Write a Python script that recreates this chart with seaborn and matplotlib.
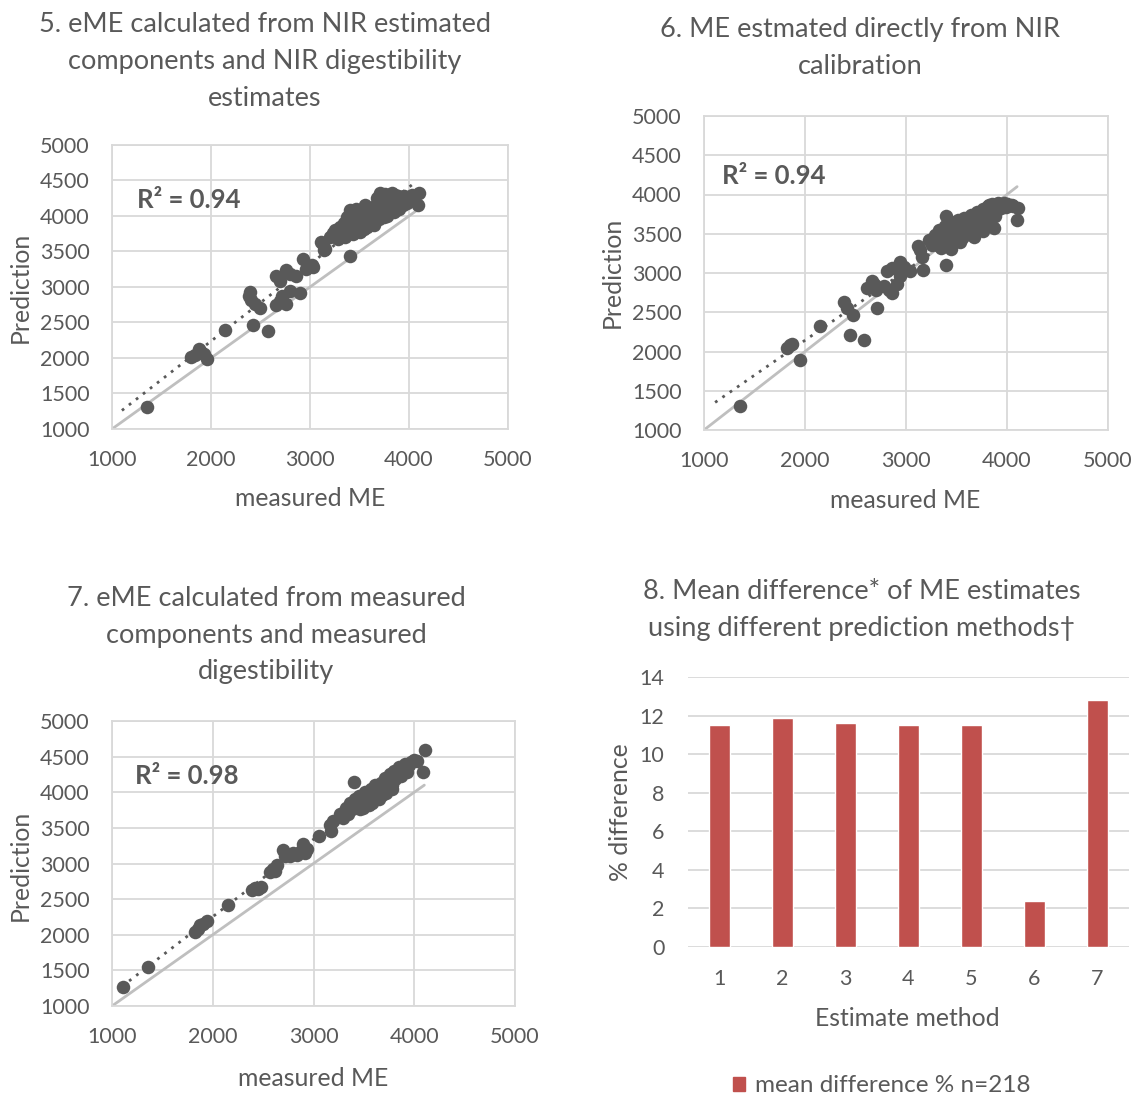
import numpy as np
import pandas as pd
import matplotlib
matplotlib.use("Agg")
import matplotlib.pyplot as plt
from matplotlib.patches import Patch
import seaborn as sns

# ---- data -------------------------------------------------------------
# 5. eME from NIR estimated components and NIR digestibility
nir_comp_measured = [
    1350, 1800, 1840, 1880, 1900, 1930, 1960, 2140, 2420, 2580,
    2390, 2380, 2400, 2440, 2490, 2660, 2700, 2720, 2760, 2800,
    2660, 2700, 2760, 2800, 2860, 2900, 2930, 2960, 3030, 3020,
    3130, 3140, 3110, 3150, 3400,
    3200, 3230, 3250, 3280, 3300, 3320, 3340, 3350, 3370, 3380,
    3400, 3420, 3430, 3450, 3460, 3480, 3500, 3510, 3530, 3550,
    3560, 3580, 3600, 3620, 3640, 3650, 3670, 3690, 3700, 3710,
    3720, 3740, 3750, 3770, 3790, 3800, 3820, 3840, 3850, 3870,
    3890, 3900, 3920, 3940, 3960, 3980, 4000, 4050, 4100, 4090,
    3450, 3550, 3350, 3300, 3600, 3700, 3780, 3860, 3800, 3400,
    3760, 3810, 3860, 3910, 3950, 4000, 4030, 3730, 3680, 3830,
]
nir_comp_pred = [
    1310, 2010, 2040, 2130, 2090, 2060, 1990, 2400, 2460, 2380,
    2930, 2870, 2810, 2760, 2710, 2750, 2800, 2880, 2760, 2940,
    3150, 3080, 3240, 3180, 3150, 2910, 3400, 3250, 3280, 3310,
    3610, 3520, 3640, 3530, 3430,
    3700, 3760, 3800, 3680, 3850, 3750, 3900, 3700, 3980, 3800,
    3880, 4050, 3750, 3950, 4100, 3850, 4000, 3780, 4080, 3900,
    4150, 3850, 4020, 3950, 4120, 3880, 4050, 4200, 3960, 4330,
    4300, 4100, 3980, 4200, 4050, 4280, 4150, 4250, 4050, 4180,
    4280, 4100, 4220, 4150, 4250, 4180, 4230, 4270, 4330, 4150,
    3820, 3820, 3830, 3750, 3920, 4120, 4000, 4120, 4300, 4080,
    4310, 4290, 4300, 4270, 4280, 4260, 4290, 4250, 4260, 4320,
]

# 6. ME estimated directly from NIR calibration
nir_cal_measured = [
    1356, 1820, 1850, 1870, 1950, 2150, 2390, 2420, 2480, 2450,
    2580, 2710, 2610, 2660, 2680, 2700, 2780, 2830, 2910, 2940,
    2860, 2810, 2860, 2940, 2980, 3040, 3170, 3140, 3160, 3120,
    3400,
    3230, 3260, 3290, 3310, 3330, 3350, 3370, 3390, 3400, 3410,
    3430, 3450, 3460, 3480, 3500, 3510, 3530, 3550, 3570, 3580,
    3600, 3620, 3640, 3650, 3670, 3690, 3700, 3720, 3740, 3760,
    3770, 3790, 3810, 3820, 3840, 3860, 3880, 3900, 3920, 3940,
    3960, 3980, 4000, 4050, 4110, 4100, 3870, 3760, 3450, 3550,
    3820, 3850, 3880, 3910, 3940, 3970, 4000, 4030, 3990, 4060,
]
nir_cal_pred = [
    1306, 2040, 2080, 2100, 1890, 2320, 2630, 2560, 2470, 2210,
    2150, 2560, 2810, 2900, 2860, 2780, 2840, 2780, 2860, 2960,
    2750, 3020, 3060, 3140, 3080, 3020, 3040, 3290, 3200, 3350,
    3100,
    3420, 3360, 3480, 3400, 3550, 3320, 3460, 3600, 3720, 3380,
    3520, 3650, 3420, 3580, 3480, 3680, 3400, 3560, 3700, 3480,
    3620, 3520, 3740, 3600, 3460, 3680, 3780, 3560, 3700, 3820,
    3620, 3750, 3850, 3680, 3780, 3870, 3720, 3800, 3880, 3830,
    3860, 3870, 3850, 3860, 3830, 3680, 3570, 3540, 3300, 3440,
    3860, 3880, 3870, 3890, 3870, 3890, 3880, 3870, 3840, 3850,
]

# 7. eME from measured components and measured digestibility
lab_measured = [
    1110, 1360, 1820, 1850, 1870, 1900, 1940, 2155, 2390, 2420,
    2450, 2480, 2570, 2600, 2640, 2620, 2700, 2720, 2770, 2800,
    2840, 2880, 2900, 2920, 2940, 3050, 3160, 3170, 3190,
    3260, 3290, 3320, 3340, 3360, 3380, 3400, 3410, 3430, 3450,
    3470, 3490, 3510, 3530, 3550, 3570, 3590, 3610, 3630, 3650,
    3670, 3690, 3710, 3720, 3740, 3760, 3780, 3800, 3810, 3830,
    3850, 3870, 3890, 3910, 3930, 3950, 3970, 4000, 4030, 4110,
    4090, 3580, 3680, 3780, 3460,
]
lab_pred = [
    1270, 1550, 2040, 2080, 2130, 2150, 2200, 2420, 2630, 2660,
    2640, 2670, 2880, 2920, 2980, 2900, 3190, 3100, 3100, 3150,
    3120, 3180, 3280, 3150, 3200, 3380, 3540, 3450, 3600,
    3700, 3640, 3780, 3700, 3850, 3760, 4150, 3900, 3800, 3950,
    3860, 3780, 4000, 3900, 3820, 4050, 3950, 4100, 4000, 3900,
    4130, 4050, 4200, 3990, 4150, 4250, 4100, 4300, 4180, 4260,
    4350, 4230, 4310, 4400, 4280, 4380, 4420, 4450, 4440, 4590,
    4290, 3850, 3960, 4050, 3760,
]

# 8. mean difference of ME estimates by method (n=218)
methods = ["1", "2", "3", "4", "5", "6", "7"]
mean_diff = [11.5, 11.9, 11.6, 11.5, 11.5, 2.4, 12.8]

# ---- style ------------------------------------------------------------
sns.set_theme(style="white")
plt.rcParams["font.family"] = ["Lato", "DejaVu Sans"]
TXT = "#595959"
GRID = "#d9d9d9"
DOT = "#595959"
ONE2ONE = "#bfbfbf"
BAR = "#c0504d"

W, H = 1131, 1097
fig = plt.figure(figsize=(W / 100, H / 100), dpi=100)


def rect(l, t, r, b):
    return [l / W, 1 - b / H, (r - l) / W, (b - t) / H]


def ftext(x, y, s, **kw):
    fig.text(x / W, 1 - y / H, s, **kw)


def scatter_panel(box, xs, ys, r2, r2_xy, fit_range):
    ax = fig.add_axes(rect(*box))
    df = pd.DataFrame({"measured ME": xs, "Prediction": ys})
    # 1:1 reference line
    ref = np.array([1000, 4100])
    ax.plot(ref, ref, color=ONE2ONE, lw=2.0, zorder=1)
    sns.scatterplot(data=df, x="measured ME", y="Prediction", ax=ax,
                    color=DOT, s=95, linewidth=0, alpha=1, zorder=3)
    # least-squares trend line
    k, c = np.polyfit(xs, ys, 1)
    fx = np.array(fit_range)
    ax.plot(fx, k * fx + c, ls=(0, (1, 2.2)), color=DOT, lw=2.0, zorder=2)
    ax.set_xlim(1000, 5000)
    ax.set_ylim(1000, 5000)
    ax.set_xticks(range(1000, 5001, 1000))
    ax.set_yticks(range(1000, 5001, 500))
    ax.grid(True, color=GRID, lw=1.3)
    ax.set_axisbelow(True)
    for sp in ax.spines.values():
        sp.set_color(GRID)
        sp.set_linewidth(1.3)
    ax.tick_params(length=0, labelsize=15.5, labelcolor=TXT)
    ax.tick_params(axis="x", pad=15)
    ax.tick_params(axis="y", pad=16)
    ax.set_xlabel("")
    ax.set_ylabel("")
    ftext(r2_xy[0], r2_xy[1], r2, fontsize=18.5, color=TXT,
          fontweight="bold", va="center", ha="left")
    return ax


scatter_panel((112, 145, 508, 429), nir_comp_measured, nir_comp_pred,
              "R² = 0.94", (137, 200), (1100, 4060))
scatter_panel((704, 116, 1108, 430), nir_cal_measured, nir_cal_pred,
              "R² = 0.94", (722, 176), (1110, 4060))
scatter_panel((112, 721, 515, 1006), lab_measured, lab_pred,
              "R² = 0.98", (135, 776), (1100, 4110))

# bar chart of mean differences
axb = fig.add_axes(rect(688, 677, 1129, 947))
bdf = pd.DataFrame({"Estimate method": methods, "% difference": mean_diff})
sns.barplot(data=bdf, x="Estimate method", y="% difference", ax=axb,
            color=BAR, width=0.32, saturation=1, errorbar=None)
axb.set_xlim(-0.5, 6.5)
axb.set_ylim(0, 14)
axb.set_yticks(range(0, 15, 2))
axb.yaxis.grid(True, color=GRID, lw=1.3)
axb.set_axisbelow(True)
for sp in axb.spines.values():
    sp.set_visible(False)
axb.tick_params(length=0, labelsize=15.5, labelcolor=TXT)
axb.tick_params(axis="x", pad=16)
axb.tick_params(axis="y", pad=17)
axb.set_xlabel("")
axb.set_ylabel("")
fig.legend(handles=[Patch(color=BAR, label="mean difference % n=218")],
           loc="center", bbox_to_anchor=(882 / W, 1 - 1086 / H),
           frameon=False, fontsize=17.5, labelcolor=TXT,
           handlelength=0.5, handleheight=0.5, handletextpad=0.4)

# titles
tkw = dict(fontsize=19.5, color=TXT, ha="center", va="center", linespacing=1.6)
ftext(265, 61, "5. eME calculated from NIR estimated\ncomponents and NIR digestibility\nestimates", **tkw)
ftext(860, 48, "6. ME estmated directly from NIR\ncalibration", **tkw)
ftext(266, 635, "7. eME calculated from measured\ncomponents and measured\ndigestibility", **tkw)
ftext(862, 610, "8. Mean difference* of ME estimates\nusing different prediction methods†", **tkw)

# axis titles
lkw = dict(fontsize=17.8, color=TXT, ha="center", va="center")
ftext(20, 287, "Prediction", rotation=90, **lkw)
ftext(310, 499, "measured ME", **lkw)
ftext(612, 272, "Prediction", rotation=90, **lkw)
ftext(905, 500, "measured ME", **lkw)
ftext(20, 865, "Prediction", rotation=90, **lkw)
ftext(313, 1078, "measured ME", **lkw)
ftext(620, 812, "% difference", rotation=90, **lkw)
ftext(907, 1018, "Estimate method", **lkw)

fig.savefig("out.png", dpi=100, facecolor="white")
